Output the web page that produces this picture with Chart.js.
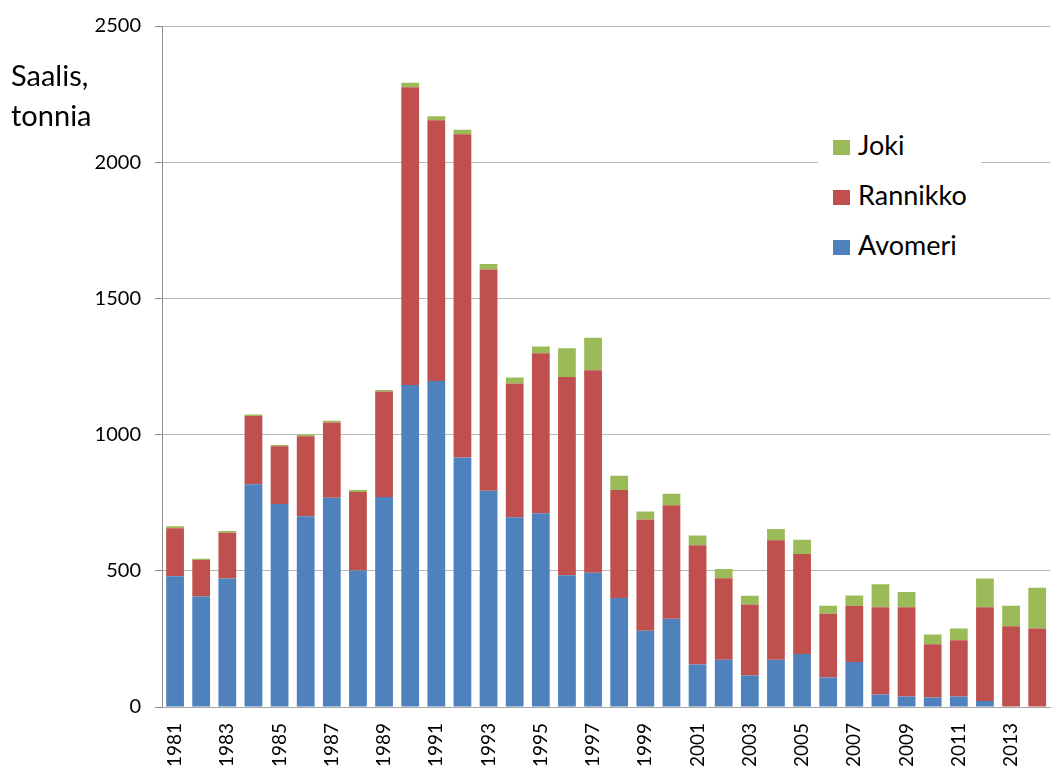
<!DOCTYPE html>
<html>
<head>
<meta charset="utf-8">
<script src="https://cdn.jsdelivr.net/npm/chart.js@4.4.1/dist/chart.umd.min.js"></script>
<style>
    body { margin: 0; overflow: hidden; background: #fff; font-family: Lato, 'Open Sans', sans-serif; }
    #wrap { position: relative; width: 1068px; height: 773px; }
    #yTitle { position: absolute; left: 11px; top: 55px; font-size: 29px; line-height: 40px; color: #000; }
    #legend { position: absolute; left: 818px; top: 120px; width: 163px; height: 148px; background: #fff; }
    .item { position: absolute; left: 15px; font-size: 27px; color: #000; height: 30px; line-height: 30px; white-space: nowrap; }
    .item span { display: inline-block; width: 17px; height: 15px; margin-right: 8px; vertical-align: 0px; }
</style>
</head>
<body>
<div id="wrap">
    <canvas id="chart" width="1068" height="773"></canvas>
    <div id="yTitle">Saalis,<br>tonnia</div>
    <div id="legend"></div>
</div>
<script>
// vuodet ja saalis (tonnia) pyyntialueittain
const years = [
    1981, 1982, 1983, 1984, 1985, 1986, 1987, 1988, 1989, 1990,
    1991, 1992, 1993, 1994, 1995, 1996, 1997, 1998, 1999, 2000,
    2001, 2002, 2003, 2004, 2005, 2006, 2007, 2008, 2009, 2010,
    2011, 2012, 2013, 2014
];
const avomeri = [
    480, 406, 472, 818, 745, 700, 768, 501, 771, 1182,
    1197, 916, 794, 697, 711, 484, 493, 400, 280, 324,
    156, 173, 116, 173, 195, 108, 165, 46, 39, 35,
    39, 22, 0, 0
];
const rannikko = [
    176, 134, 168, 250, 212, 294, 276, 288, 387, 1093,
    957, 1187, 812, 491, 588, 727, 743, 397, 408, 417,
    438, 300, 260, 439, 367, 234, 207, 320, 327, 195,
    206, 344, 296, 288
];
const joki = [
    8, 4, 6, 6, 5, 6, 7, 8, 6, 17,
    15, 16, 20, 22, 24, 106, 120, 52, 30, 42,
    36, 34, 32, 41, 52, 30, 37, 85, 56, 36,
    43, 106, 76, 150
];
const yTicks = [0, 500, 1000, 1500, 2000, 2500];

const series = [
    { label: 'Avomeri', data: avomeri, color: '#4F81BD' },
    { label: 'Rannikko', data: rannikko, color: '#C0504D' },
    { label: 'Joki', data: joki, color: '#9BBB59' }
];

// oma selite, Joki ylimpänä kuten Excelissä
const legendEl = document.getElementById('legend');
series.slice().reverse().forEach((s, i) => {
    const div = document.createElement('div');
    div.className = 'item';
    div.style.top = (10 + i * 50) + 'px';
    div.innerHTML = `<span style="background:${s.color}"></span>${s.label}`;
    legendEl.appendChild(div);
});

const ctx = document.getElementById('chart').getContext('2d');
new Chart(ctx, {
    type: 'bar',
    data: {
        labels: years.map(String),
        datasets: series.map(s => ({
            label: s.label,
            data: s.data,
            backgroundColor: s.color,
            borderWidth: 0,
            categoryPercentage: 1,
            barPercentage: 0.68
        }))
    },
    options: {
        responsive: false,
        animation: false,
        devicePixelRatio: 1,
        layout: { padding: { top: 17, left: 0, right: 0, bottom: 0 } },
        plugins: {
            legend: { display: false },
            tooltip: { enabled: false }
        },
        scales: {
            x: {
                stacked: true,
                grid: { display: false },
                border: { display: true, color: '#a6a6a6', width: 1 },
                ticks: {
                    autoSkip: false,
                    minRotation: 90,
                    maxRotation: 90,
                    padding: 8,
                    color: '#000',
                    font: { family: 'Lato', size: 19 },
                    callback: function(val, idx) {
                        return idx % 2 === 0 ? years[idx] : '';
                    }
                },
                afterFit: (scale) => { scale.height = 66; }
            },
            y: {
                stacked: true,
                min: 0,
                max: 2500,
                afterBuildTicks: (scale) => {
                    scale.ticks = yTicks.map(v => ({ value: v }));
                },
                grid: { color: '#b8b8b8', tickLength: 7, tickColor: '#8c8c8c' },
                border: { display: true, color: '#8c8c8c', width: 1 },
                ticks: {
                    padding: 14,
                    color: '#000',
                    font: { family: 'Lato', size: 20 },
                    callback: (v) => String(v)
                },
                afterFit: (scale) => { scale.width = 162; }
            }
        }
    }
});
</script>
</body>
</html>
